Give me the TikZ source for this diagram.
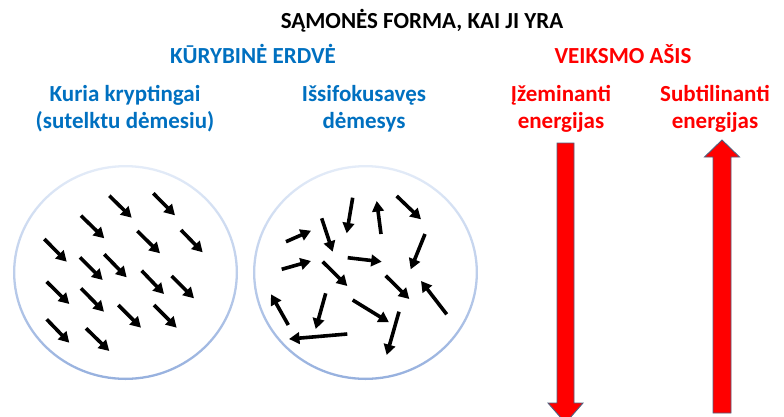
\documentclass[tikz,border=0pt]{standalone}
\usepackage{fontspec}
\setmainfont{Carlito}
\usetikzlibrary{arrows.meta}
\definecolor{txtblue}{RGB}{0,112,192}
\definecolor{txtred}{RGB}{255,0,0}
\definecolor{ringtop}{RGB}{228,236,248}
\definecolor{ringbot}{RGB}{150,176,222}
\definecolor{arrowedge}{RGB}{80,95,125}
\tikzset{
  lbl/.style={font=\fontsize{23}{27}\selectfont\bfseries, anchor=base, inner sep=0pt},
  ptr/.style={line width=3.6pt, -{Triangle[length=10.5pt,width=11.5pt]}},
  bigarrow/.style={fill=txtred, draw=arrowedge, line width=0.9pt},
  ring/.style={top color=ringtop, bottom color=ringbot, even odd rule}
}
\begin{document}
\begin{tikzpicture}[x=1pt,y=-1pt]
\useasboundingbox (0,0) rectangle (784,416);
\clip (0,0) rectangle (784,416);
% titles
\node[lbl] (title) at (422,28) {SĄMONĖS FORMA, KAI JI YRA};
\node[lbl, text=txtblue] (kur) at (253,63) {KŪRYBINĖ ERDVĖ};
\node[lbl, text=txtred] (veik) at (623,63) {VEIKSMO AŠIS};
\node[lbl, text=txtblue] (k1) at (125,101) {Kuria kryptingai};
\node[lbl, text=txtblue] (k2) at (125,128) {(sutelktu dėmesiu)};
\node[lbl, text=txtblue] (i1) at (364,101) {Išsifokusavęs};
\node[lbl, text=txtblue] (i2) at (364,128) {dėmesys};
\node[lbl, text=txtred] (z1) at (561,101) {Įžeminanti};
\node[lbl, text=txtred] (z2) at (561,128) {energijas};
\node[lbl, text=txtred] (s1) at (715,101) {Subtilinanti};
\node[lbl, text=txtred] (s2) at (715,128) {energijas};
% circles
\shade[ring] (125.5,272.5) ellipse [x radius=112.5, y radius=107.5]
             (125.5,272.5) ellipse [x radius=110.2, y radius=105.2];
\shade[ring] (365.5,272.5) ellipse [x radius=112.5, y radius=107.5]
             (365.5,272.5) ellipse [x radius=110.2, y radius=105.2];
% aligned arrows
\foreach \a/\b/\c/\d in {109.3/195.7/131.7/217.7, 153.3/193.3/175/215.3,
  81/215.7/104.3/238.3, 137.3/231/160/253.3, 181/230/202.7/252.3,
  44.3/239/66.7/261.7, 80/257.3/102.7/280, 104.3/254.3/126.7/277.3,
  141.7/270.7/164/294, 171.7/276/194/298.3, 46.7/281.7/69.3/304,
  81/288.3/104/311.7, 118.3/305/141/327.7, 154/305/176.7/327.7,
  46.7/319.3/69.3/342.7, 86/328.3/109.3/351}
  \draw[ptr] (\a,\b) -- (\c,\d);
% scattered arrows
\foreach \a/\b/\c/\d in {286/241.7/311/230.7, 321.7/218.3/332.7/251.7,
  352.7/197.7/346.7/233.3, 381/234/376.7/201, 396.7/196/421/219.3,
  425/234/410.7/269.3, 281.7/269.3/311/261, 347.7/257.7/381.7/261.7,
  322.7/261.7/347.3/286, 385.7/275.7/409.3/299, 446.7/314.3/421/281,
  288.3/325/271/294.3, 325.7/293.3/315.7/329, 352.7/300/389/322.3,
  399/311.7/386.7/355, 347.3/334/289/339}
  \draw[ptr] (\a,\b) -- (\c,\d);
% big red arrows
\draw[bigarrow] (557,143) -- (574,143) -- (574,403) -- (583,403) -- (565.5,423)
  -- (548,403) -- (557,403) -- cycle;
\draw[bigarrow] (713,413) -- (731,413) -- (731,157) -- (739.5,157) -- (722,140)
  -- (704.5,157) -- (713,157) -- cycle;
\end{tikzpicture}
\end{document}
